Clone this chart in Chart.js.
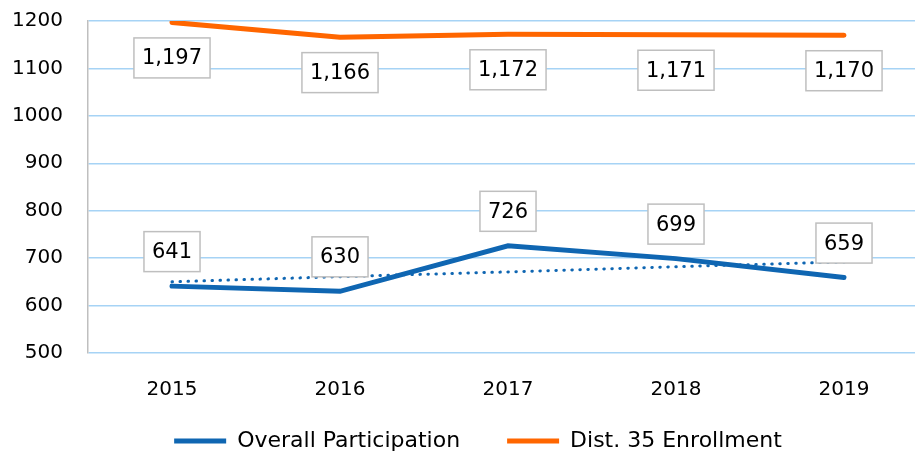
<!DOCTYPE html>
<html>
<head>
<meta charset="utf-8">
<script src="https://cdn.jsdelivr.net/npm/chart.js@4"></script>
<style>
  body { margin: 0; overflow: hidden; background: #fff; }
  #wrap { position: relative; width: 945px; height: 459px; }
</style>
</head>
<body>
<div id="wrap"><canvas id="myChart"></canvas></div>
<script>
const years = ["2015", "2016", "2017", "2018", "2019"];
const participation = [641, 630, 726, 699, 659];
const enrollment = [1197, 1166, 1172, 1171, 1170];
// dotted trend
const trend = [650, 661, 671, 682, 692];
const yTicks = [500, 600, 700, 800, 900, 1000, 1100, 1200];

const blue = "#0F66B2";
const orange = "#FF6600";
const font = "'DejaVu Sans'";

// white boxes with the values
const boxLabels = {
  id: "boxLabels",
  beforeDraw(chart) {
    // let the year labels run below the thin x axis box
    chart.scales.x._computeLabelArea = () => undefined;
  },
  afterDatasetsDraw(chart) {
    const ctx = chart.ctx;
    ctx.save();
    ctx.font = "21px " + font;
    ctx.textAlign = "center";
    ctx.textBaseline = "middle";
    [0, 1].forEach(di => {
      const meta = chart.getDatasetMeta(di);
      const vals = chart.data.datasets[di].data;
      const shift = di === 0 ? -34.5 : 35.5;
      meta.data.forEach((pt, i) => {
        const txt = vals[i].toLocaleString("en-US");
        const w = ctx.measureText(txt).width + 16;
        const h = 40;
        const x = pt.x, y = pt.y + shift;
        ctx.fillStyle = "#fff";
        ctx.fillRect(x - w / 2, y - h / 2, w, h);
        ctx.strokeStyle = "#bfbfbf";
        ctx.lineWidth = 1.5;
        ctx.strokeRect(x - w / 2, y - h / 2, w, h);
        ctx.fillStyle = "#000";
        ctx.fillText(txt, x, y + 1);
      });
    });
    ctx.restore();
  }
};

const ctx = document.getElementById("myChart").getContext("2d");
const myChart = new Chart(ctx, {
  type: "line",
  data: {
    labels: years,
    datasets: [
      {
        label: "Overall Participation",
        data: participation,
        borderColor: blue,
        backgroundColor: blue,
        borderWidth: 5,
        pointRadius: 0,
        tension: 0,
        borderCapStyle: "round"
      },
      {
        label: "Dist. 35 Enrollment",
        data: enrollment,
        borderColor: orange,
        backgroundColor: orange,
        borderWidth: 5,
        pointRadius: 0,
        tension: 0,
        borderCapStyle: "round"
      },
      {
        label: "trend",
        data: trend,
        borderColor: blue,
        borderWidth: 3,
        borderDash: [0.5, 7.5],
        borderCapStyle: "round",
        pointRadius: 0,
        tension: 0
      }
    ]
  },
  plugins: [boxLabels],
  options: {
    responsive: true,
    maintainAspectRatio: false,
    animation: false,
    layout: { padding: { left: 13, right: 2, top: 21, bottom: -3 } },
    plugins: {
      tooltip: { enabled: false },
      legend: {
        position: "bottom",
        labels: {
          font: { family: font, size: 22 },
          color: "#000",
          boxWidth: 52,
          boxHeight: 5,
          padding: 47,
          filter: item => item.datasetIndex < 2,
          generateLabels(chart) {
            return Chart.defaults.plugins.legend.labels.generateLabels(chart).map(it => {
              it.lineWidth = 0;
              return it;
            });
          }
        }
      }
    },
    scales: {
      x: {
        offset: true,
        grid: { display: false, drawTicks: false, offset: true },
        border: { display: false },
        ticks: { font: { family: font, size: 20 }, color: "#000", padding: 25, maxRotation: 0 },
        afterFit(s) { s.height = 30; }
      },
      y: {
        min: 500,
        max: 1200,
        afterBuildTicks(s) { s.ticks = yTicks.map(v => ({ value: v })); },
        grid: { color: "#A6D3F5", lineWidth: 1.5, drawTicks: true, tickLength: 25, tickColor: "rgba(0,0,0,0)" },
        border: { display: true, color: "#BFBFBF", width: 1.5 },
        ticks: {
          font: { family: font, size: 20 },
          color: "#000",
          padding: 0,
          callback: v => String(v)
        },
        afterFit(s) { s.width = 75; }
      },
      yR: {
        position: "right",
        display: true,
        grid: { display: false, drawTicks: false },
        border: { display: false },
        ticks: { display: false },
        afterFit(s) { s.width = 15; }
      }
    }
  }
});
</script>
</body>
</html>
